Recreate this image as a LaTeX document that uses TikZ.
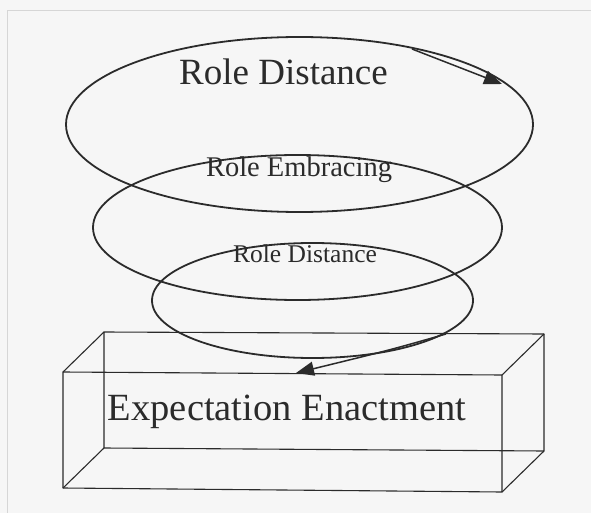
\documentclass[tikz,border=0pt]{standalone}
\usepackage{fontspec}
\setmainfont{Liberation Serif}
\usetikzlibrary{arrows.meta}
\definecolor{bgc}{HTML}{F6F6F6}
\definecolor{ink}{HTML}{2B2B2B}
\definecolor{framec}{HTML}{D6D6D6}
\begin{document}
\begin{tikzpicture}[x=1pt,y=-1pt,
  loop/.style={draw=ink,line width=1.8pt},
  boxline/.style={draw=ink,line width=1.1pt,line join=round},
  label/.style={inner sep=0pt,anchor=base,text=ink},
  arr/.style={draw=ink,line width=1.5pt,-{Triangle[length=18pt,width=14pt]}}]
\fill[bgc] (0,0) rectangle (591,513);
\useasboundingbox (0,0) rectangle (591,513);
% faint frame
\draw[framec,line width=0.8pt] (7,513) -- (7,10) -- (591,10);
% box (wireframe)
\coordinate (fTL) at (63,372); \coordinate (fTR) at (502,375);
\coordinate (fBR) at (502,492); \coordinate (fBL) at (63,488);
\coordinate (bTL) at (104,332); \coordinate (bTR) at (544,334);
\coordinate (bBR) at (544,451); \coordinate (bBL) at (104,448);
\draw[boxline] (fTL) -- (fTR) -- (fBR) -- (fBL) -- cycle;
\draw[boxline] (bTL) -- (bTR) -- (bBR) -- (bBL) -- cycle;
\draw[boxline] (fTL) -- (bTL) (fTR) -- (bTR) (fBR) -- (bBR) (fBL) -- (bBL);
% ellipses
\coordinate (e1) at (299.5,124.5);
\coordinate (e2) at (297.5,227.5);
\coordinate (e3) at (312.5,300.5);
\draw[loop] (e1) ellipse [x radius=233.5, y radius=87.5];
\draw[loop] (e2) ellipse [x radius=204.5, y radius=72.5];
\draw[loop] (e3) ellipse [x radius=160.5, y radius=57.5];
% arrows
\coordinate (a1s) at (412,49);
\coordinate (a1e) at (502,84);
\draw[arr] (a1s) -- (a1e);
\coordinate (a2s) at (446,334);
\coordinate (a2e) at (296,373);
\draw[arr] (a2s) .. controls (390,350) .. (a2e);
% texts
\node[label,font=\fontsize{37}{40}\selectfont] (t1) at (283.5,85) {Role Distance};
\node[label,font=\fontsize{28.5}{32}\selectfont] (t2) at (299,176) {Role Embracing};
\node[label,font=\fontsize{25.5}{28}\selectfont] (t3) at (305,262) {Role Distance};
\node[label,font=\fontsize{38.5}{42}\selectfont] (t4) at (287,420) {Expectation Enactment};
\end{tikzpicture}
\end{document}
